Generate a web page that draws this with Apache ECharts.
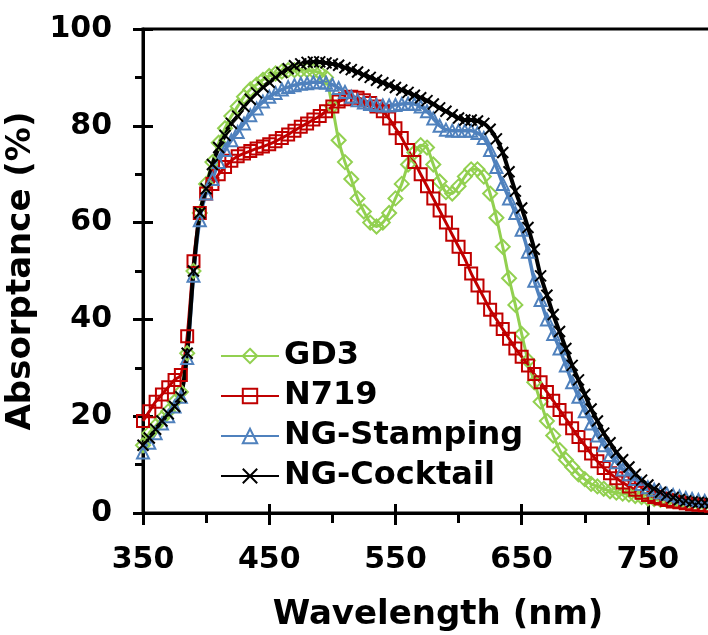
<!DOCTYPE html>
<html>
<head>
<meta charset="utf-8">
<script src="https://cdn.jsdelivr.net/npm/echarts@6/dist/echarts.min.js"></script>
<style>
html,body{margin:0;padding:0;background:#fff;}
#chart{width:708px;height:635px;}
</style>
</head>
<body>
<div id="chart"></div>
<script>
const wavelength = [350,355,360,365,370,375,380,385,390,395,
  400,405,410,415,420,425,430,435,440,445,
  450,455,460,465,470,475,480,485,490,495,
  500,505,510,515,520,525,530,535,540,545,
  550,555,560,565,570,575,580,585,590,595,
  600,605,610,615,620,625,630,635,640,645,
  650,655,660,665,670,675,680,685,690,695,
  700,705,710,715,720,725,730,735,740,745,
  750,755,760,765,770,775,780,785,790,795,
  800];

const gd3 = [14,16.5,18,19.5,21,23,25,33,50,62,
  68,72.5,76.5,79.5,82,84,86,87.5,88.5,89.5,
  90.3,90.8,91.2,91.5,91.5,91.5,91.5,91.3,91,90,
  84,77,72.5,69,65,62.3,60,59.2,60,62,
  65,68,72,74.5,76,75.5,72,68.5,66.3,66,
  67.5,69.5,71,71,69.5,66,61,55,48.5,43,
  37,31.5,27,23,19,16,13,11,9.5,8,
  7,6,5.5,5,4.5,4.2,4,3.8,3.5,3.3,
  3,2.9,2.7,2.6,2.5,2.4,2.3,2.2,2.1,2,
  2];

const n719 = [19,21,23,24.5,26,27.5,28.5,36.5,52,62,
  66,68,70,71.5,72.8,73.7,74.3,74.8,75.3,75.7,
  76.2,76.8,77.5,78.2,79,79.8,80.5,81.3,82,83,
  84,85,85.5,86,85.8,85.3,84.7,84,83,81.5,
  79.5,77.5,75,72.5,70,67.5,65,62.5,60,57.5,
  55,52.5,49.5,47,44.5,42,40,38,36,34,
  32.3,30.5,28.7,27,25,23.2,21.3,19.5,17.5,15.7,
  14,12.3,10.7,9.3,8.2,7.2,6.3,5.5,4.8,4.2,
  3.7,3.3,3,2.7,2.4,2.2,2,1.8,1.7,1.6,
  1.5];

const ngStamping = [12.5,14.5,16.5,18.5,20,22,24,32,49,60.5,
  66,69,72.5,75,77,78.7,80.5,82.2,83.6,85,
  86,86.8,87.5,88,88.4,88.7,88.8,89,89,88.9,
  88.5,87.8,87,86,85.3,84.8,84.5,84.3,84.2,84.2,
  84.3,84.5,84.6,84.5,84,83,81.5,80,79.2,79,
  79,79,79,78.5,77.5,75,71.5,68,65,62,
  58.5,54,48,44,40,37,34,30.5,27,24,
  21,18.5,16,14,12,10.5,9,8,7,6,
  5.3,4.8,4.3,4,3.7,3.4,3.1,2.9,2.7,2.5,
  2.5];

const ngCocktail = [14,15.5,17.3,19,20.5,22,24,33,50,62,
  67,72,75.5,78,80.5,82,84,85.5,86.8,88,
  89,90,91,91.8,92.4,92.8,93.1,93.2,93.2,93,
  92.8,92.5,92,91.6,91.1,90.5,90,89.4,88.9,88.4,
  87.9,87.4,86.9,86.3,85.8,85.2,84.5,83.7,83,82.3,
  81.6,81.2,81.2,81,80.5,79.3,77.3,74.5,70.5,66.5,
  63,59,54.5,49,45,41,37.5,34,30.5,27.5,
  24.5,21.5,19,16.5,14.5,12.5,11,9.5,8,6.8,
  5.8,5,4.3,3.7,3.2,2.8,2.5,2.3,2.2,2.1,
  2];

const xTicks = {min:350, max:800, interval:100};
const yTicks = {min:0, max:100, interval:20};

const FONT = 'DejaVu Sans';
function pairs(ys){ return wavelength.map((w,i)=>[w, ys[i]]); }

const chart = echarts.init(document.getElementById('chart'), null, {renderer:'canvas'});

function mkSeries(name, data, color, symbol, size, lw){
  return {
    name: name, type:'line', data: pairs(data), smooth:0.2,
    xAxisIndex:0, yAxisIndex:0,
    symbol: symbol, symbolSize: size, showAllSymbol:true,
    lineStyle:{color:color, width:lw},
    itemStyle:{color:'rgba(255,255,255,0)', borderColor:color, borderWidth:2},
    emphasis:{disabled:true},
    animation:false
  };
}

const option = {
  animation:false,
  backgroundColor:'#fff',
  grid:{left:143, top:29, width:568, height:484, containLabel:false, outerBoundsMode:'none',
        show:true, borderColor:'#000', borderWidth:3, backgroundColor:'transparent'},
  legend:{
    orient:'vertical', left:215, top:331,
    itemWidth:58, itemHeight:18, itemGap:0,
    data:['GD3','N719','NG-Stamping','NG-Cocktail'],
    textStyle:{fontFamily:FONT, fontWeight:'bold', fontSize:32, color:'#000', lineHeight:40, padding:[0,0,0,0]}
  },
  xAxis:[{
    type:'value', position:'bottom', min:xTicks.min, max:xTicks.max, interval:xTicks.interval,
    axisLine:{show:true, onZero:false, lineStyle:{color:'#000', width:3}},
    axisTick:{show:true, length:12, lineStyle:{color:'#000', width:3}},
    minorTick:{show:true, splitNumber:2, length:10, lineStyle:{color:'#000', width:3}},
    axisLabel:{fontFamily:FONT, fontWeight:'bold', fontSize:30, color:'#000', margin:32, showMaxLabel:false},
    splitLine:{show:false}, minorSplitLine:{show:false},
    name:'Wavelength (nm)', nameLocation:'middle', nameGap:85,
    nameTextStyle:{fontFamily:FONT, fontWeight:'bold', fontSize:34, color:'#000', padding:[0,0,0,22]}
  },{
    type:'value', position:'bottom', min:xTicks.min, max:xTicks.max, interval:xTicks.interval,
    axisLine:{show:false}, axisTick:{show:true, inside:true, length:9, lineStyle:{color:'#000', width:3}},
    axisLabel:{show:false}, splitLine:{show:false}
  }],
  yAxis:[{
    type:'value', position:'left', min:yTicks.min, max:yTicks.max, interval:yTicks.interval,
    axisLine:{show:true, onZero:false, lineStyle:{color:'#000', width:3}},
    axisTick:{show:true, length:10, lineStyle:{color:'#000', width:3}},
    minorTick:{show:true, splitNumber:2, length:8, lineStyle:{color:'#000', width:3}},
    axisLabel:{fontFamily:FONT, fontWeight:'bold', fontSize:30, color:'#000', margin:31},
    splitLine:{show:false}, minorSplitLine:{show:false},
    name:'Absorptance (%)', nameLocation:'middle', nameGap:86,
    nameTextStyle:{fontFamily:FONT, fontWeight:'bold', fontSize:34, color:'#000'}
  },{
    type:'value', position:'left', min:yTicks.min, max:yTicks.max, interval:yTicks.interval,
    axisLine:{show:false}, axisTick:{show:true, inside:true, length:10, lineStyle:{color:'#000', width:3}},
    axisLabel:{show:false}, splitLine:{show:false}
  }],
  series:[
    mkSeries('GD3', gd3, '#92D050', 'diamond', 14, 3),
    mkSeries('N719', n719, '#C00000', 'rect', 12, 3),
    mkSeries('NG-Stamping', ngStamping, '#4F81BD', 'triangle', 12, 3.5),
    mkSeries('NG-Cocktail', ngCocktail, '#000000', 'path://M0,0L10,10M10,0L0,10', 11, 4)
  ]
};
chart.setOption(option);
</script>
</body>
</html>
